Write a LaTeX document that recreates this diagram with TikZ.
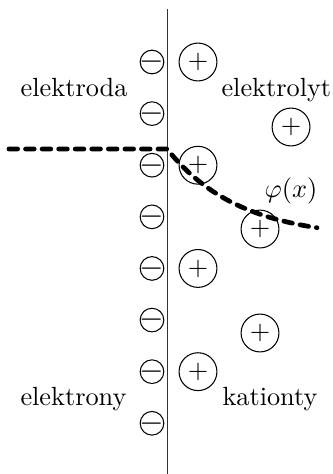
\documentclass[tikz,border=0pt]{standalone}
\begin{document}
\begin{tikzpicture}[x=1cm,y=1cm,
  anion/.style={circle,draw,minimum size=9pt,inner sep=0pt,font=\large},
  kation/.style={circle,draw,minimum size=14.4pt,inner sep=0pt},
  popis/.style={inner sep=0pt},
  potencial/.style={line width=1.8pt,line cap=round,dash pattern=on 3.3pt off 3pt}]
\useasboundingbox (0,0) rectangle (4.439,-6.337);
\draw[black!80] (2.233,-0.12) -- (2.233,-6.337);
% elektrony na povrchu elektrody
\node[anion] (m1) at (2.032,-0.829) {\makebox[0pt]{$-$}};
\node[anion] (m2) at (2.032,-1.519) {\makebox[0pt]{$-$}};
\node[anion] (m3) at (2.032,-2.209) {\makebox[0pt]{$-$}};
\node[anion] (m4) at (2.032,-2.899) {\makebox[0pt]{$-$}};
\node[anion] (m5) at (2.032,-3.589) {\makebox[0pt]{$-$}};
\node[anion] (m6) at (2.032,-4.279) {\makebox[0pt]{$-$}};
\node[anion] (m7) at (2.032,-4.969) {\makebox[0pt]{$-$}};
\node[anion] (m8) at (2.032,-5.659) {\makebox[0pt]{$-$}};
% kationty v elektrolytu
\node[kation] (p1) at (2.647,-0.829) {$+$};
\node[kation] (p2) at (3.891,-1.698) {$+$};
\node[kation] (p3) at (2.647,-2.209) {$+$};
\node[kation] (p4) at (3.476,-3.062) {$+$};
\node[kation] (p5) at (2.647,-3.589) {$+$};
\node[kation] (p6) at (3.476,-4.452) {$+$};
\node[kation] (p7) at (2.647,-4.969) {$+$};
% popisky
\node[popis,anchor=base east] (elektroda) at (1.711,-1.293) {elektroda};
\node[popis,anchor=base west] (elektrolyt) at (2.955,-1.293) {elektrolyt};
\node[popis,anchor=base east] (elektrony) at (1.698,-5.415) {elektrony};
\node[popis,anchor=base west] (kationty) at (2.968,-5.415) {kationty};
\node[popis,anchor=base] (phi) at (3.891,-2.647) {$\varphi(x)$};
% potencial
\coordinate (start) at (0.12,-1.992);
\coordinate (rozhrani) at (2.233,-1.992);
\draw[potencial] (start) -- (rozhrani)
  -- plot[domain=0:2.005,samples=40] ({2.233+\x},{-1.992-1.203*(1-exp(-\x/0.963))});
\end{tikzpicture}
\end{document}
